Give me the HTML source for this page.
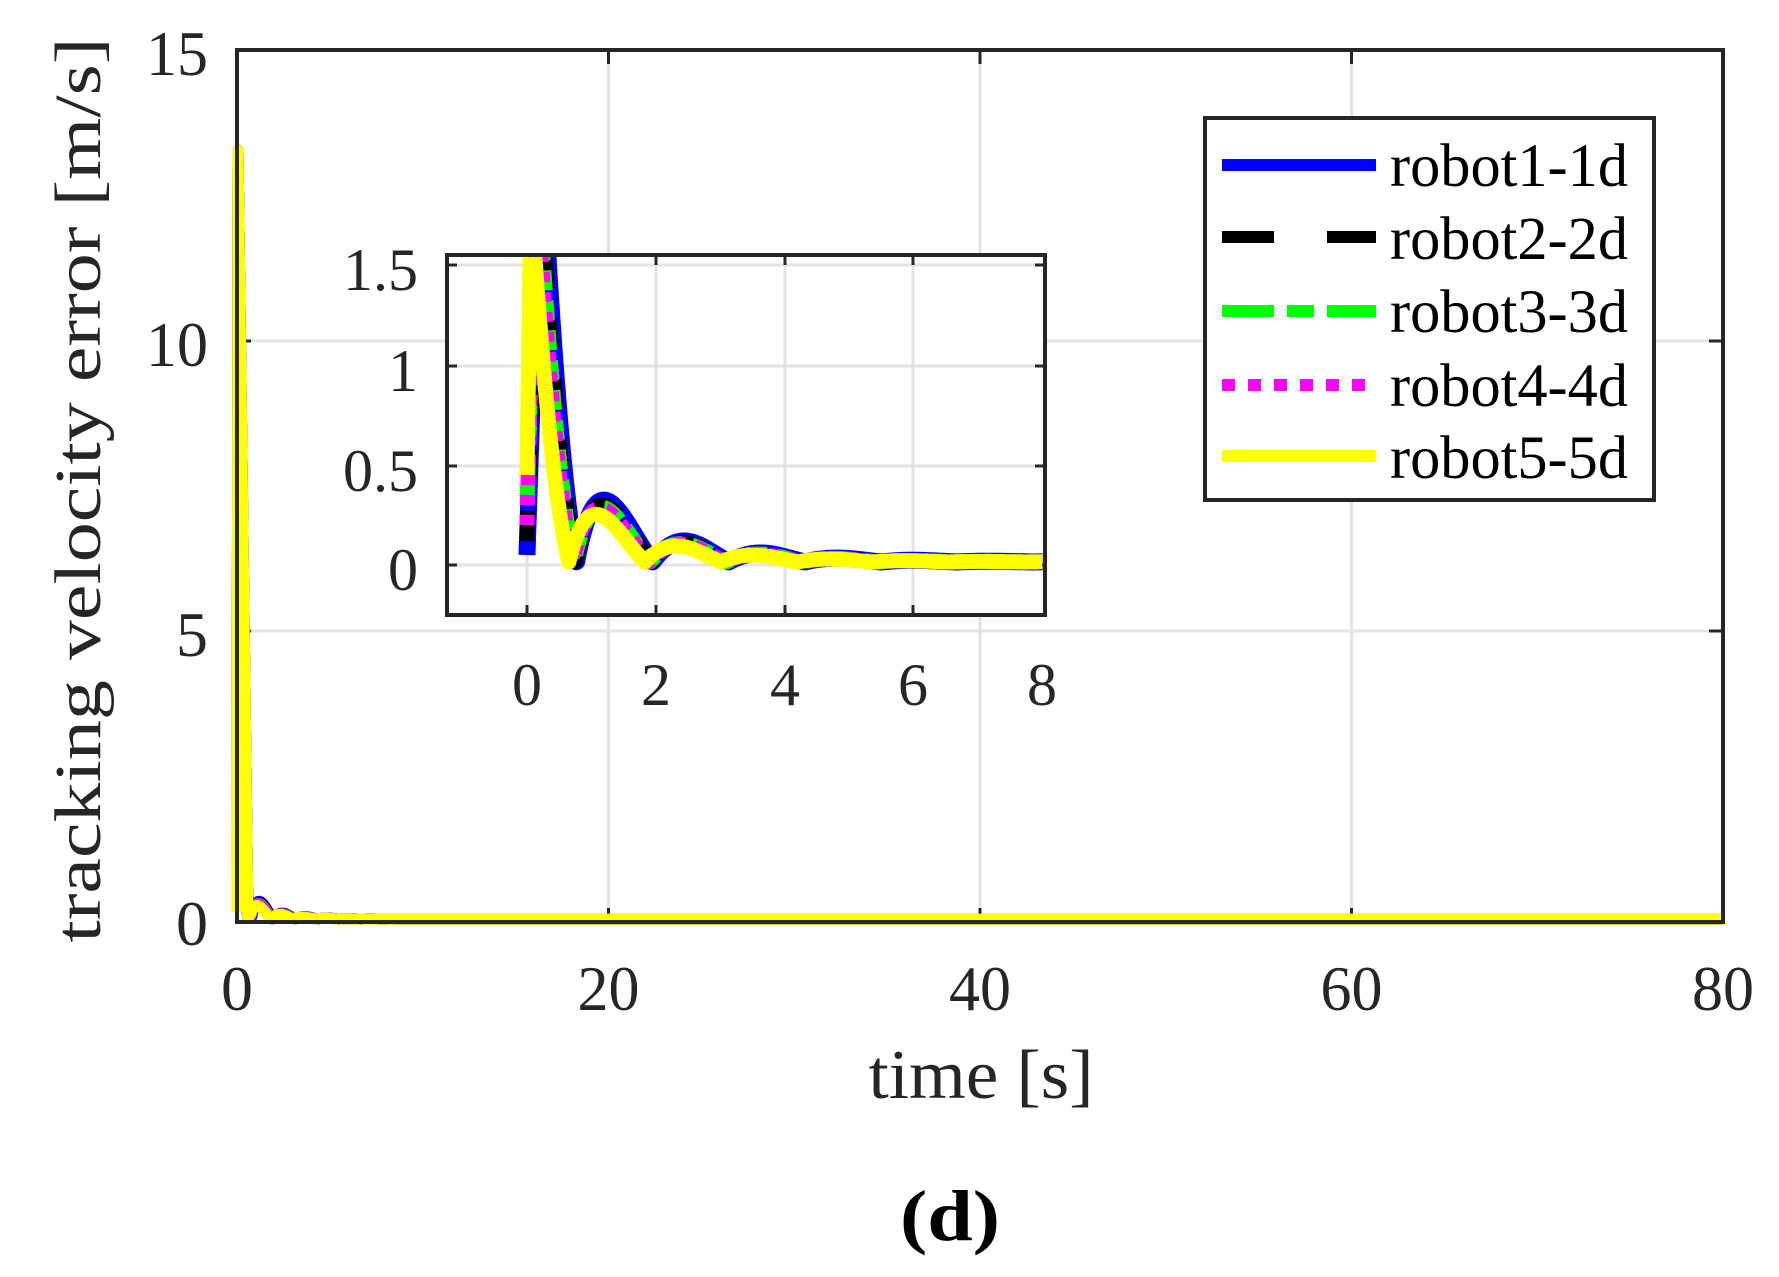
<!DOCTYPE html>
<html><head><meta charset="utf-8"><style>
html,body{margin:0;padding:0;background:#fff;}
svg{display:block;font-family:"Liberation Serif",serif;}
</style></head><body>
<svg id="s" width="1779" height="1277" viewBox="0 0 1779 1277" xmlns="http://www.w3.org/2000/svg">
<rect width="1779" height="1277" fill="#fff"/>
<g stroke="#e3e3e3" stroke-width="3">
<line x1="608.5" y1="50" x2="608.5" y2="922"/><line x1="980" y1="50" x2="980" y2="922"/><line x1="1351.5" y1="50" x2="1351.5" y2="922"/>
<line x1="237" y1="341" x2="1723" y2="341"/><line x1="237" y1="631" x2="1723" y2="631"/>
</g>
<g stroke="#262626" stroke-width="3">
<line x1="608.5" y1="922" x2="608.5" y2="908"/><line x1="980" y1="922" x2="980" y2="908"/><line x1="1351.5" y1="922" x2="1351.5" y2="908"/>
<line x1="608.5" y1="50" x2="608.5" y2="64"/><line x1="980" y1="50" x2="980" y2="64"/><line x1="1351.5" y1="50" x2="1351.5" y2="64"/>
<line x1="237" y1="341" x2="251" y2="341"/><line x1="237" y1="631" x2="251" y2="631"/>
<line x1="1723" y1="341" x2="1709" y2="341"/><line x1="1723" y1="631" x2="1709" y2="631"/>
</g>
<g id="mainlines"></g>
<rect x="237" y="50" width="1486" height="872" fill="none" stroke="#262626" stroke-width="4"/>
<g font-size="64" fill="#262626" text-anchor="end">
<text x="208" y="75" textLength="62" lengthAdjust="spacingAndGlyphs">15</text><text x="208" y="366" textLength="62" lengthAdjust="spacingAndGlyphs">10</text><text x="208" y="656">5</text><text x="208" y="945">0</text>
</g>
<g font-size="64" fill="#262626" text-anchor="middle">
<text x="237" y="1010">0</text><text x="608.5" y="1010" textLength="62" lengthAdjust="spacingAndGlyphs">20</text><text x="980" y="1010" textLength="62" lengthAdjust="spacingAndGlyphs">40</text><text x="1351.5" y="1010" textLength="62" lengthAdjust="spacingAndGlyphs">60</text><text x="1723" y="1010" textLength="62" lengthAdjust="spacingAndGlyphs">80</text>
</g>
<text x="981" y="1098" font-size="70" text-anchor="middle" fill="#262626" textLength="225" lengthAdjust="spacingAndGlyphs">time [s]</text>
<text transform="translate(100,490) rotate(-90)" font-size="66" text-anchor="middle" fill="#262626" textLength="905" lengthAdjust="spacingAndGlyphs">tracking velocity error [m/s]</text>
<text x="950" y="1240" font-size="72" font-weight="bold" text-anchor="middle" fill="#000" textLength="100" lengthAdjust="spacingAndGlyphs">(d)</text>
<rect x="447" y="255" width="598" height="360" fill="#fff"/>
<g stroke="#e3e3e3" stroke-width="3">
<line x1="527" y1="255" x2="527" y2="615"/><line x1="656" y1="255" x2="656" y2="615"/><line x1="785" y1="255" x2="785" y2="615"/><line x1="913" y1="255" x2="913" y2="615"/>
<line x1="447" y1="265" x2="1045" y2="265"/><line x1="447" y1="366" x2="1045" y2="366"/><line x1="447" y1="466" x2="1045" y2="466"/><line x1="447" y1="565" x2="1045" y2="565"/>
</g>
<g stroke="#262626" stroke-width="3">
<line x1="527" y1="615" x2="527" y2="605"/><line x1="656" y1="615" x2="656" y2="605"/><line x1="785" y1="615" x2="785" y2="605"/><line x1="913" y1="615" x2="913" y2="605"/>
<line x1="527" y1="255" x2="527" y2="265"/><line x1="656" y1="255" x2="656" y2="265"/><line x1="785" y1="255" x2="785" y2="265"/><line x1="913" y1="255" x2="913" y2="265"/>
<line x1="447" y1="265" x2="457" y2="265"/><line x1="447" y1="366" x2="457" y2="366"/><line x1="447" y1="466" x2="457" y2="466"/><line x1="447" y1="565" x2="457" y2="565"/>
<line x1="1045" y1="265" x2="1035" y2="265"/><line x1="1045" y1="366" x2="1035" y2="366"/><line x1="1045" y1="466" x2="1035" y2="466"/><line x1="1045" y1="565" x2="1035" y2="565"/>
</g>
<clipPath id="ic"><rect x="449" y="257" width="600" height="356"/></clipPath>
<g id="insetlines" clip-path="url(#ic)"></g>
<rect x="447" y="255" width="598" height="360" fill="none" stroke="#262626" stroke-width="4"/>
<g font-size="60" fill="#262626" text-anchor="end">
<text x="418" y="290" textLength="75" lengthAdjust="spacingAndGlyphs">1.5</text><text x="418" y="391">1</text><text x="418" y="491" textLength="75" lengthAdjust="spacingAndGlyphs">0.5</text><text x="418" y="590">0</text>
</g>
<g font-size="60" fill="#262626" text-anchor="middle">
<text x="527" y="705">0</text><text x="656" y="705">2</text><text x="785" y="705">4</text><text x="913" y="705">6</text><text x="1042" y="705">8</text>
</g>
<rect x="1205" y="118" width="449" height="382" fill="#fff" stroke="#262626" stroke-width="4"/>
<g stroke-width="12">
<line x1="1222" y1="165" x2="1376" y2="165" stroke="#0000ff"/>
<line x1="1222" y1="237" x2="1376" y2="237" stroke="#000" stroke-dasharray="52,53"/>
<line x1="1222" y1="311" x2="1376" y2="311" stroke="#00ff00" stroke-dasharray="52,13,27,13"/>
<line x1="1222" y1="385" x2="1376" y2="385" stroke="#ff00ff" stroke-dasharray="13,13"/>
<line x1="1222" y1="456" x2="1376" y2="456" stroke="#ffff00"/>
</g>
<g font-size="61" fill="#000">
<text x="1390" y="186" textLength="238" lengthAdjust="spacingAndGlyphs">robot1-1d</text><text x="1390" y="259" textLength="238" lengthAdjust="spacingAndGlyphs">robot2-2d</text><text x="1390" y="332" textLength="238" lengthAdjust="spacingAndGlyphs">robot3-3d</text><text x="1390" y="406" textLength="238" lengthAdjust="spacingAndGlyphs">robot4-4d</text><text x="1390" y="478" textLength="238" lengthAdjust="spacingAndGlyphs">robot5-5d</text>
</g>
</svg>
<script>
function v(t,s){var lag=s[1],amp=s[2],st=s[5],t0=0.06+lag;
 if(t<t0){return st+(1.8-st)*(t/t0);}
 var u=t-t0;var w=2.66;return Math.abs(Math.cos(w*u))*(amp*1.4*Math.exp(-3*u)+amp*0.4*Math.exp(-0.7*u))+0.015;}
var series=[["#0000ff",0.12,1.3,17,null,0.05],["#000",0.1,1.2,15,"30,30",0.12],["#00ff00",0.08,1.15,15,"20,10",0.3],["#ff00ff",0.06,1.12,15,"10,10",0.2],["#ffff00",0,1,15,null,0.45]];
var ins=document.getElementById("insetlines"),mn=document.getElementById("mainlines"),NS="http://www.w3.org/2000/svg";
series.forEach(function(s){
 var d="";
 for(var i=0;i<=800;i++){var t=i*0.01;var y=v(t,s);var X=527+t*64.4,Y=565-y*200;d+=(i?"L":"M")+X.toFixed(1)+","+Y.toFixed(1);}
 var p=document.createElementNS(NS,"path");p.setAttribute("d",d);p.setAttribute("fill","none");p.setAttribute("stroke",s[0]);p.setAttribute("stroke-width",s[3]);p.setAttribute("stroke-linejoin","round");if(s[4])p.setAttribute("stroke-dasharray",s[4]);ins.appendChild(p);
 var d2="M237,912L238,150L248,918";
 for(var j=1;j<=800;j++){var t2=j*0.1;var y2=v(t2,s);d2+="L"+(237+t2*18.575).toFixed(1)+","+(920-y2*58).toFixed(1);}
 var q=document.createElementNS(NS,"path");q.setAttribute("d",d2);q.setAttribute("fill","none");q.setAttribute("stroke",s[0]);q.setAttribute("stroke-width",11);q.setAttribute("stroke-linejoin","round");mn.appendChild(q);
});
</script>
</body></html>
